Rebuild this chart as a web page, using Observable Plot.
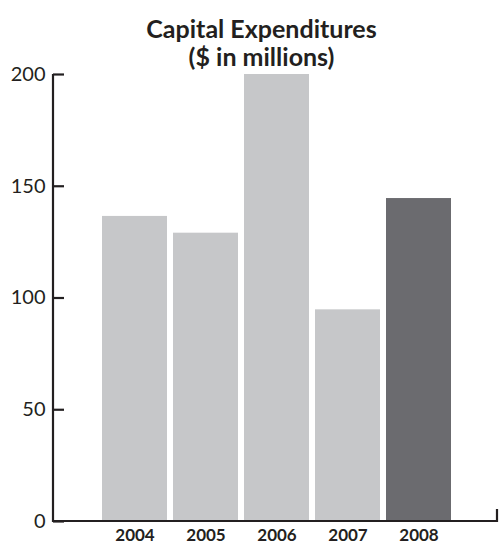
<!DOCTYPE html>
<html>
<head>
<meta charset="utf-8">
<script src="https://cdn.jsdelivr.net/npm/d3@7"></script>
<script src="https://cdn.jsdelivr.net/npm/@observablehq/plot@0.6"></script>
<style>
  html, body { margin: 0; padding: 0; background: #fff; }
  #chart svg { display: block; }
</style>
</head>
<body>
<div id="chart"></div>
<script>
const years = ["2004", "2005", "2006", "2007", "2008"];
const values = [136.5, 129, 200, 94.7, 144.5];
const yTicks = [0, 50, 100, 150, 200];
const titleLines = ["Capital Expenditures", "($ in millions)"];

const data = years.map((year, i) => ({year, value: values[i]}));
const axisColor = "#231f20";
const lightBar = "#c6c7c9";
const darkBar = "#6b6b6f";

const axisLines = (index, scales, values, dims) => {
  const g = d3.create("svg:g").attr("stroke", axisColor).attr("fill", "none").attr("stroke-width", 2.2);
  const xl = dims.marginLeft;
  const xr = dims.width - dims.marginRight;
  const y0 = scales.y(0);
  const yTop = scales.y(200);
  g.append("path").attr("d", `M${xl},${yTop}V${y0}H${xr}V${y0 - 12}`);
  return g.node();
};

const chart = Plot.plot({
  width: 499,
  height: 544,
  marginTop: 74,
  marginBottom: 23,
  marginLeft: 53,
  marginRight: 2,
  style: {fontFamily: "Lato, sans-serif", color: axisColor, background: "#fff"},
  x: {domain: years, paddingInner: 0.09, paddingOuter: 0.65, align: 0.517, label: null},
  y: {domain: [0, 200], label: null},
  color: {domain: years, range: [lightBar, lightBar, lightBar, lightBar, darkBar]},
  marks: [
    Plot.barY(data, {x: "year", y: "value", fill: "year"}),
    Plot.axisY({ticks: yTicks, tickSize: 0, tickPadding: 8, fontSize: 20, text: d => String(d)}),
    Plot.axisY({ticks: yTicks, tickSize: -11, text: null, strokeWidth: 2.2, stroke: axisColor}),
    Plot.axisX({tickSize: 0, tickPadding: 7, fontSize: 17, fontWeight: "bold"}),
    axisLines,
    Plot.text([titleLines.join("\n")], {
      frameAnchor: "top",
      lineAnchor: "bottom",
      dy: -9,
      dx: -14,
      fontSize: 25,
      fontWeight: "bold",
      lineHeight: 1.1,
      fill: axisColor
    })
  ]
});

document.getElementById("chart").append(chart);
</script>
</body>
</html>
